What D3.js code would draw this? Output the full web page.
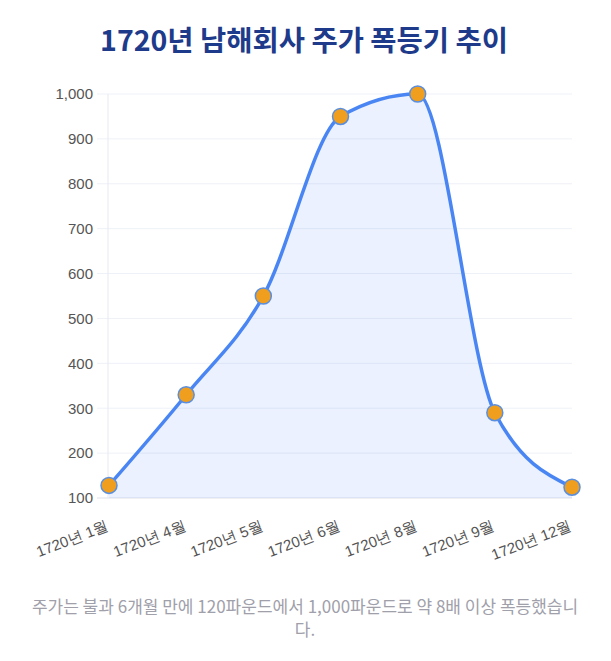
<!DOCTYPE html>
<html>
<head>
<meta charset="utf-8">
<script src="https://cdn.jsdelivr.net/npm/d3@7"></script>
<style>
body { margin: 0; background: #fff; }
svg { display: block; font-family: "Liberation Sans", "Noto Sans CJK KR", sans-serif; }
</style>
</head>
<body>
<svg width="611" height="661"></svg>
<script>
var months = ['1720년 1월', '1720년 4월', '1720년 5월', '1720년 6월', '1720년 8월', '1720년 9월', '1720년 12월'];
var prices = [128, 330, 550, 950, 1000, 290, 124];
var yTicks = [100, 200, 300, 400, 500, 600, 700, 800, 900, 1000];
var title = '1720년 남해회사 주가 폭등기 추이';
var captionLines = ['주가는 불과 6개월 만에 120파운드에서 1,000파운드로 약 8배 이상 폭등했습니', '다.'];

var svg = d3.select('svg');
var plotLeft = 109, plotRight = 572, plotTop = 94, plotBottom = 498;

var x = d3.scalePoint().domain(months).range([plotLeft, plotRight]).padding(0);
var y = d3.scaleLinear().domain([100, 1000]).range([plotBottom, plotTop]);

var data = months.map(function(m, i){
    return {month: m, price: prices[i]};
});

svg.append('text')
    .attr('x', 304)
    .attr('y', 51)
    .attr('text-anchor', 'middle')
    .attr('fill', '#1e3a8a')
    .style('font-family', '"Noto Sans CJK KR", sans-serif')
    .style('font-weight', 'bold')
    .style('font-size', '28.5px')
    .text(title);

// grid lines
svg.append('g')
    .selectAll('line')
    .data(yTicks)
    .enter()
    .append('line')
    .attr('x1', plotLeft - 12)
    .attr('x2', plotRight)
    .attr('y1', function(d){ return y(d) })
    .attr('y2', function(d){ return y(d) })
    .attr('stroke', function(d){ return d === 100 ? '#dde1ea' : '#eef1f7' })
    .attr('stroke-width', 1);

svg.append('line')
    .attr('x1', plotLeft - 1).attr('x2', plotLeft - 1)
    .attr('y1', plotTop).attr('y2', plotBottom)
    .attr('stroke', '#e6e9ef');

// y axis labels
var yAxis = d3.axisLeft(y).tickValues(yTicks).tickFormat(d3.format(',')).tickSize(0).tickPadding(16);
var gy = svg.append('g').attr('transform', 'translate(' + plotLeft + ',0)').call(yAxis);
gy.select('.domain').remove();
gy.selectAll('text').attr('fill', '#555').style('font-size', '15px');

// x axis labels
var xAxis = d3.axisBottom(x).tickSize(0).tickPadding(0);
var gx = svg.append('g').attr('transform', 'translate(0,' + plotBottom + ')').call(xAxis);
gx.select('.domain').remove();
gx.selectAll('text')
    .attr('fill', '#555')
    .style('font-size', '15px')
    .attr('text-anchor', 'end')
    .attr('y', 0)
    .attr('dy', null)
    .attr('transform', 'translate(0,32) rotate(-21)');

// area + line
var area = d3.area()
    .x(function(d){ return x(d.month) })
    .y0(plotBottom)
    .y1(function(d){ return y(d.price) })
    .curve(d3.curveMonotoneX);

var line = d3.line()
    .x(function(d){ return x(d.month) })
    .y(function(d){ return y(d.price) })
    .curve(d3.curveMonotoneX);

svg.append('path')
    .datum(data)
    .attr('d', area)
    .attr('fill', 'rgba(59,120,245,0.1)');

svg.append('path')
    .datum(data)
    .attr('d', line)
    .attr('fill', 'none')
    .attr('stroke', '#4a86f3')
    .attr('stroke-width', 3.5);

svg.selectAll('circle.pt')
    .data(data)
    .enter()
    .append('circle')
    .attr('class', 'pt')
    .attr('cx', function(d){ return x(d.month) })
    .attr('cy', function(d){ return y(d.price) })
    .attr('r', 8)
    .attr('fill', '#f09e1d')
    .attr('stroke', '#5a8fe0')
    .attr('stroke-width', 1.5);

// caption
svg.append('text')
    .attr('text-anchor', 'middle')
    .attr('fill', '#a0a0aa')
    .style('font-family', '"Noto Sans CJK KR", sans-serif')
    .style('font-size', '17px')
    .selectAll('tspan')
    .data(captionLines)
    .enter()
    .append('tspan')
    .attr('x', 305)
    .attr('y', function(d, i){ return 613 + i * 23 })
    .text(function(d){ return d });
</script>
</body>
</html>
